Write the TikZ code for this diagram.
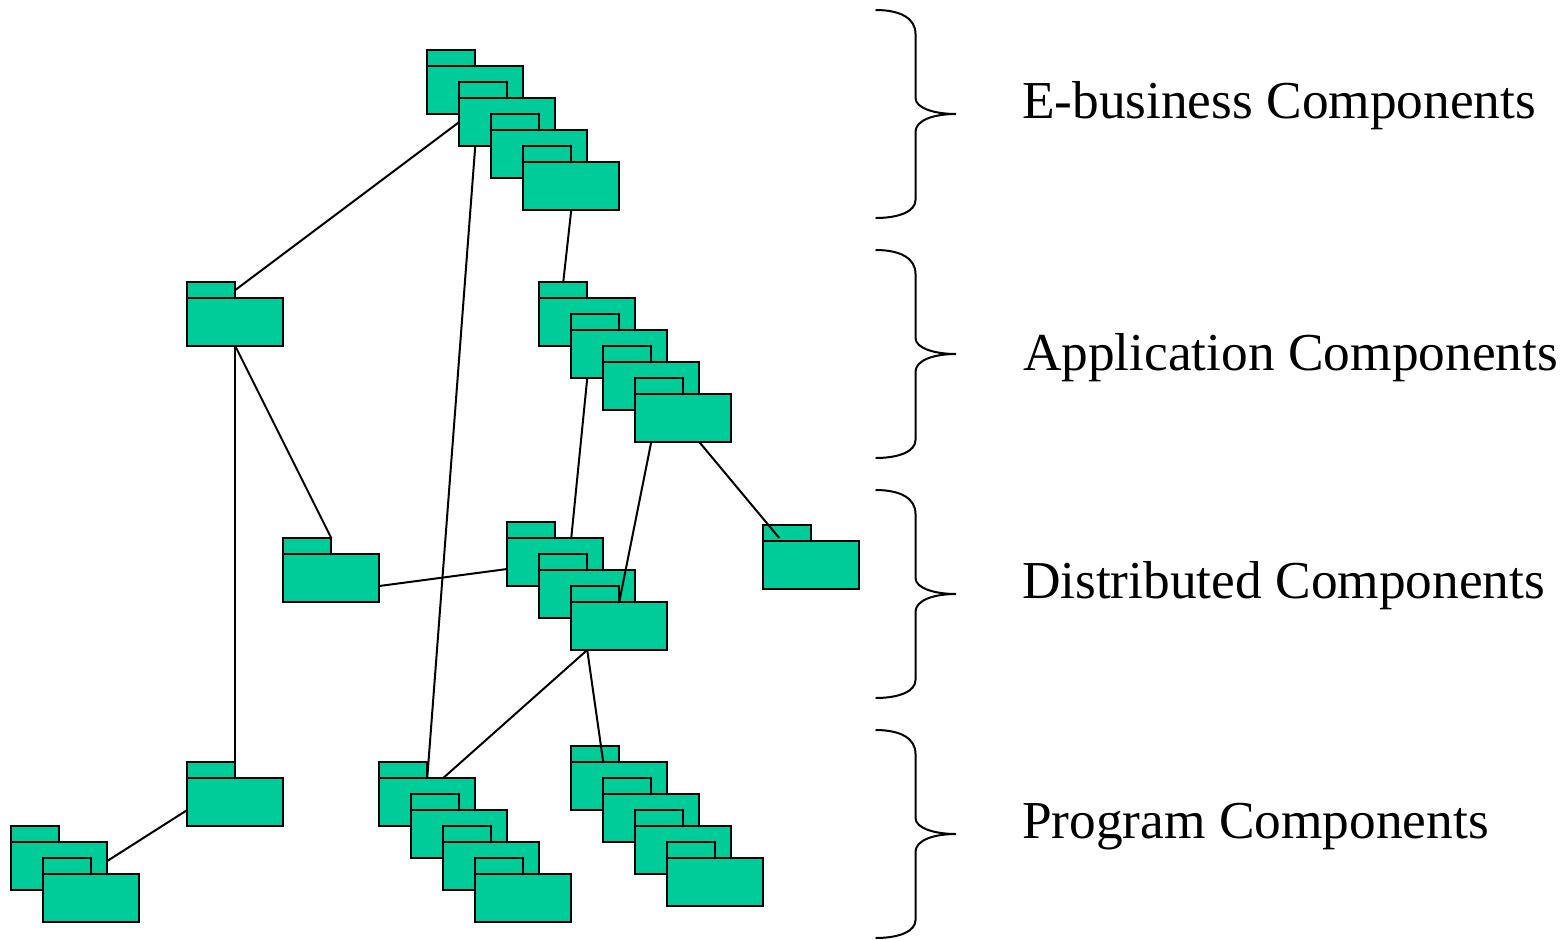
\documentclass[tikz,border=0pt]{standalone}
\usepackage{fontspec}
\setmainfont{Liberation Serif}
\definecolor{foldergreen}{HTML}{00CC99}
\tikzset{
  tabbox/.style={draw=black,fill=foldergreen,line width=2pt,minimum width=48pt,minimum height=16pt,inner sep=0pt,outer sep=0pt},
  bodybox/.style={draw=black,fill=foldergreen,line width=2pt,minimum width=96pt,minimum height=48pt,inner sep=0pt,outer sep=0pt},
  linkline/.style={draw=black,line width=2pt},
  bracecurve/.style={draw=black,line width=2pt},
  tierlabel/.style={anchor=base west,inner sep=0pt,outer sep=0pt,font=\fontsize{53.35}{60}\selectfont}
}
% #1 name, #2 x of tab's left edge, #3 y of tab's top edge
\newcommand{\folderat}[3]{%
  \node[tabbox] (#1-t) at ({#2+24.25},{#3+8}) {};
  \node[bodybox] (#1) at ({#2+48.25},{#3+40}) {};
}
\newcommand{\tierbrace}[1]{%
  \draw[bracecurve] (875.5,#1) .. controls (900,#1) and (915.5,{#1+8}) .. (915.5,{#1+24})
    -- (915.5,{#1+88}) .. controls (915.5,{#1+98}) and (934,{#1+104}) .. (956,{#1+104})
    .. controls (934,{#1+104}) and (915.5,{#1+110}) .. (915.5,{#1+122})
    -- (915.5,{#1+190}) .. controls (915.5,{#1+201}) and (900,{#1+208}) .. (875.5,{#1+208});
}
\begin{document}
\begin{tikzpicture}[x=1pt,y=-1pt]
\useasboundingbox (0,0) rectangle (1562,939);
\folderat{e1}{427}{50}\folderat{e2}{459}{82}\folderat{e3}{491}{114}\folderat{e4}{523}{146}
\folderat{a1}{539}{282}\folderat{a2}{571}{314}\folderat{a3}{603}{346}\folderat{a4}{635}{378}
\folderat{d1}{507}{522}\folderat{d2}{539}{554}\folderat{d3}{571}{586}
\folderat{s1}{187}{282}\folderat{s2}{283}{538}\folderat{s3}{187}{762}\folderat{s4}{763}{525}
\folderat{p1}{379}{762}\folderat{p2}{411}{794}\folderat{p3}{443}{826}\folderat{p4}{475}{858}
\folderat{r1}{571}{746}\folderat{r2}{603}{778}\folderat{r3}{635}{810}\folderat{r4}{667}{842}
\folderat{q1}{11}{826}\folderat{q2}{43}{858}
\coordinate (s4end) at ([xshift=16pt,yshift=3pt]s4-t.south west);
\draw[linkline] (e2.west) -- (s1-t.east);
\draw[linkline] ([xshift=16pt]e2.south west) -- (p1-t.south east);
\draw[linkline] (e4.south) -- (a1-t.north);
\draw[linkline] ([xshift=16pt]a2.south west) -- ([xshift=64pt]d1.north west);
\draw[linkline] ([xshift=16pt]a4.south west) -- (d3.north);
\draw[linkline] ([xshift=64pt]a4.south west) -- (s4end);
\draw[linkline] (s1.south) -- (s3-t.south east);
\draw[linkline] (s1.south) -- (s2-t.north east);
\draw[linkline] ([yshift=-8pt]s2.east) -- ([yshift=-7pt]d1.west);
\draw[linkline] ([xshift=16pt]d3.south west) -- ([xshift=64pt]p1.north west);
\draw[linkline] ([xshift=16pt]d3.south west) -- ([xshift=32pt]r1.north west);
\draw[linkline] ([yshift=5pt]q1.east) -- ([yshift=-8pt]s3.west);
\tierbrace{10}\tierbrace{250}\tierbrace{490}\tierbrace{730}
\node[tierlabel] (t1) at (1022,118) {E-business Components};
\node[tierlabel] (t2) at (1023,370.5) {Application Components};
\node[tierlabel] (t3) at (1022,598) {Distributed Components};
\node[tierlabel] (t4) at (1022,838) {Program Components};
\end{tikzpicture}
\end{document}
